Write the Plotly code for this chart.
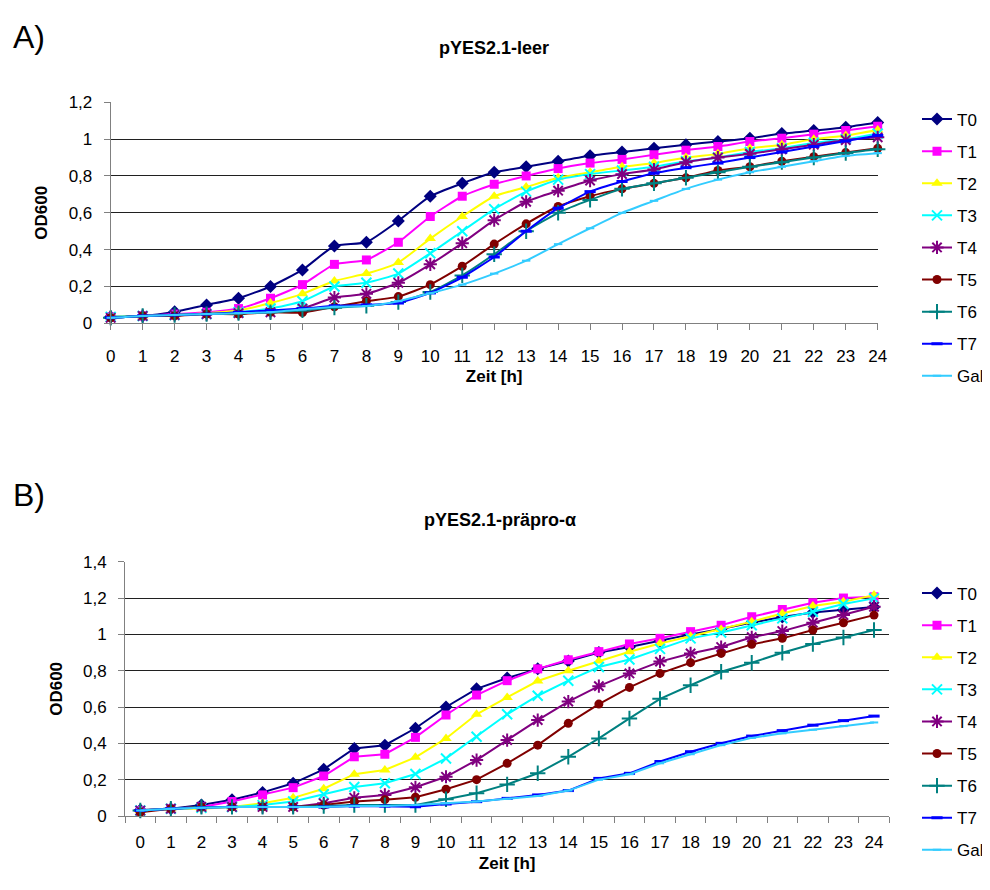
import plotly.graph_objects as go

hours = list(range(25))
hour_labels = [str(h) for h in hours]
series_names = ["T0", "T1", "T2", "T3", "T4", "T5", "T6", "T7", "Gal"]

# ---- Panel A: pYES2.1-leer ----
a_T0 = [0.036, 0.04, 0.063, 0.10, 0.136, 0.20, 0.29, 0.42, 0.44, 0.556, 0.69, 0.76, 0.82, 0.85, 0.88, 0.91, 0.93, 0.95, 0.97, 0.987, 1.005, 1.03, 1.047, 1.065, 1.09]
a_T1 = [0.035, 0.04, 0.05, 0.06, 0.08, 0.136, 0.21, 0.32, 0.344, 0.44, 0.58, 0.69, 0.755, 0.80, 0.84, 0.87, 0.89, 0.915, 0.94, 0.96, 0.987, 1.005, 1.027, 1.047, 1.07]
a_T2 = [0.035, 0.04, 0.045, 0.055, 0.07, 0.11, 0.16, 0.23, 0.27, 0.33, 0.46, 0.58, 0.69, 0.74, 0.79, 0.82, 0.85, 0.87, 0.90, 0.92, 0.95, 0.97, 1.0, 1.02, 1.05]
a_T3 = [0.035, 0.04, 0.045, 0.05, 0.06, 0.08, 0.12, 0.20, 0.22, 0.27, 0.38, 0.50, 0.62, 0.715, 0.78, 0.81, 0.83, 0.85, 0.88, 0.90, 0.93, 0.95, 0.98, 1.0, 1.03]
a_T4 = [0.03, 0.04, 0.045, 0.05, 0.055, 0.06, 0.08, 0.14, 0.16, 0.22, 0.32, 0.435, 0.56, 0.66, 0.72, 0.775, 0.81, 0.835, 0.875, 0.9, 0.92, 0.945, 0.97, 0.995, 1.01]
a_T5 = [0.03, 0.04, 0.04, 0.05, 0.05, 0.06, 0.058, 0.09, 0.12, 0.145, 0.21, 0.31, 0.43, 0.54, 0.634, 0.69, 0.73, 0.76, 0.79, 0.83, 0.85, 0.88, 0.905, 0.927, 0.95]
a_T6 = [0.03, 0.04, 0.045, 0.05, 0.055, 0.06, 0.07, 0.085, 0.095, 0.115, 0.17, 0.26, 0.375, 0.50, 0.60, 0.67, 0.73, 0.76, 0.79, 0.82, 0.85, 0.875, 0.90, 0.925, 0.945]
a_T7 = [0.03, 0.04, 0.045, 0.05, 0.06, 0.07, 0.08, 0.095, 0.10, 0.11, 0.165, 0.25, 0.36, 0.50, 0.625, 0.715, 0.77, 0.815, 0.845, 0.87, 0.90, 0.93, 0.96, 0.99, 1.02]
a_Gal = [0.03, 0.04, 0.045, 0.05, 0.055, 0.06, 0.075, 0.09, 0.094, 0.12, 0.163, 0.21, 0.27, 0.34, 0.43, 0.516, 0.60, 0.665, 0.73, 0.78, 0.82, 0.85, 0.88, 0.91, 0.924]

# ---- Panel B: pYES2.1-präpro-α ----
b_T0 = [0.033, 0.04, 0.06, 0.09, 0.13, 0.18, 0.257, 0.372, 0.39, 0.483, 0.60, 0.70, 0.76, 0.81, 0.853, 0.90, 0.93, 0.965, 1.0, 1.03, 1.065, 1.095, 1.12, 1.135, 1.15]
b_T1 = [0.03, 0.04, 0.05, 0.08, 0.116, 0.156, 0.22, 0.326, 0.34, 0.433, 0.556, 0.666, 0.745, 0.81, 0.86, 0.905, 0.947, 0.978, 1.015, 1.05, 1.097, 1.137, 1.174, 1.20, 1.207]
b_T2 = [0.03, 0.04, 0.04, 0.05, 0.07, 0.10, 0.15, 0.23, 0.253, 0.323, 0.427, 0.56, 0.653, 0.743, 0.80, 0.853, 0.904, 0.95, 0.99, 1.027, 1.07, 1.115, 1.156, 1.18, 1.216]
b_T3 = [0.03, 0.04, 0.045, 0.05, 0.06, 0.08, 0.12, 0.16, 0.18, 0.231, 0.317, 0.436, 0.56, 0.662, 0.745, 0.82, 0.862, 0.92, 0.978, 1.01, 1.05, 1.088, 1.124, 1.167, 1.198]
b_T4 = [0.03, 0.04, 0.05, 0.05, 0.05, 0.05, 0.07, 0.10, 0.116, 0.158, 0.216, 0.308, 0.418, 0.528, 0.63, 0.715, 0.785, 0.85, 0.895, 0.93, 0.984, 1.018, 1.064, 1.106, 1.152]
b_T5 = [0.02, 0.04, 0.05, 0.05, 0.05, 0.05, 0.06, 0.08, 0.09, 0.103, 0.147, 0.20, 0.29, 0.39, 0.51, 0.616, 0.708, 0.785, 0.844, 0.895, 0.945, 0.978, 1.024, 1.064, 1.106]
b_T6 = [0.03, 0.04, 0.05, 0.05, 0.05, 0.05, 0.055, 0.06, 0.06, 0.06, 0.092, 0.125, 0.174, 0.235, 0.326, 0.427, 0.537, 0.645, 0.72, 0.794, 0.844, 0.899, 0.947, 0.983, 1.024]
b_T7 = [0.03, 0.04, 0.045, 0.05, 0.05, 0.05, 0.05, 0.055, 0.055, 0.051, 0.066, 0.079, 0.097, 0.116, 0.14, 0.207, 0.235, 0.30, 0.354, 0.40, 0.44, 0.47, 0.50, 0.525, 0.55]
b_Gal = [0.03, 0.04, 0.045, 0.05, 0.05, 0.05, 0.05, 0.055, 0.055, 0.06, 0.07, 0.08, 0.095, 0.11, 0.14, 0.20, 0.23, 0.29, 0.34, 0.39, 0.43, 0.455, 0.475, 0.495, 0.515]

a_values = [a_T0, a_T1, a_T2, a_T3, a_T4, a_T5, a_T6, a_T7, a_Gal]
b_values = [b_T0, b_T1, b_T2, b_T3, b_T4, b_T5, b_T6, b_T7, b_Gal]

colors = ["#000080", "#FF00FF", "#FFFF00", "#00FFFF", "#800080", "#800000", "#008080", "#0000FF", "#33CCFF"]
symbols = ["diamond", "square", "triangle-up", "x-thin-open", "asterisk-open", "circle", "cross-thin-open", "line-ew-open", "line-ew-open"]
sizes = [10, 9, 10, 10, 11, 9, 11, 8, 6]
mline = [0, 0, 0, 2, 2, 0, 2, 3, 2]

FONT = "Liberation Sans, Arial, sans-serif"
OFF = 8  # page body margin around the plot div
W, H = 990 - 2 * OFF, 890 - 2 * OFF  # fit the viewport, no scrollbars


def fx(p):
    return (p - OFF) / W


def fy(p):
    return 1 - (p - OFF) / H


fig = go.Figure()

for i, name in enumerate(series_names):
    marker = dict(symbol=symbols[i], size=sizes[i], color=colors[i],
                  line=dict(color=colors[i], width=mline[i]))
    fig.add_trace(go.Scatter(
        x=hours, y=a_values[i], name=name, mode="lines+markers",
        line=dict(color=colors[i], width=2, shape="spline", smoothing=0.5),
        marker=marker, xaxis="x", yaxis="y", legend="legend",
        legendgroup="a" + name, cliponaxis=False))

for i, name in enumerate(series_names):
    marker = dict(symbol=symbols[i], size=sizes[i], color=colors[i],
                  line=dict(color=colors[i], width=mline[i]))
    fig.add_trace(go.Scatter(
        x=hour_labels, y=b_values[i], name=name, mode="lines+markers",
        line=dict(color=colors[i], width=2),
        marker=marker, xaxis="x2", yaxis="y2", legend="legend2",
        legendgroup="b" + name, cliponaxis=False))

TICKF = dict(family=FONT, size=17, color="black")
TITLEF = dict(family=FONT, size=17, color="black")

axis_common = dict(showline=True, linecolor="#808080", linewidth=1,
                   ticks="outside", ticklen=6, tickcolor="#808080",
                   tickfont=TICKF, zeroline=False, automargin=False)

ann = []
for text, xp, yp, size, anchor in [
    ("A)", 11, 37, 32, "left"),
    ("B)", 11, 495, 32, "left"),
    ("<b>pYES2.1-leer</b>", 494, 48, 18, "center"),
    ("<b>pYES2.1-präpro-α</b>", 500, 520, 18, "center"),
]:
    ann.append(dict(text=text, x=fx(xp), y=fy(yp), xref="paper", yref="paper",
                    xanchor=anchor, yanchor="middle", showarrow=False,
                    font=dict(family=FONT, size=size, color="black")))

fig.update_layout(
    width=W, height=H,
    margin=dict(l=0, r=0, t=0, b=0, autoexpand=False),
    paper_bgcolor="white", plot_bgcolor="white",
    separators=",.",
    font=dict(family=FONT, size=17, color="black"),
    xaxis=dict(domain=[fx(110.7), fx(877.7)], range=[0, 24], dtick=1, tick0=0,
               showgrid=False, anchor="y", ticklabelstandoff=11,
               title=dict(text="<b>Zeit [h]</b>", font=TITLEF, standoff=5),
               **axis_common),
    yaxis=dict(domain=[fy(323.3), fy(102.3)], range=[0, 1.2], dtick=0.2, anchor="x",
               showgrid=True, gridcolor="#202020", gridwidth=1, ticklabelstandoff=8,
               title=dict(text="<b>OD600</b>", font=TITLEF, standoff=16),
               **axis_common),
    xaxis2=dict(domain=[fx(125), fx(889.3)], type="category", range=[-0.5, 24.5],
                tickson="boundaries", showgrid=False, anchor="y2", ticklabelstandoff=11,
                title=dict(text="<b>Zeit [h]</b>", font=TITLEF, standoff=5),
                **axis_common),
    yaxis2=dict(domain=[fy(816), fy(561.7)], range=[0, 1.4], dtick=0.2, anchor="x2",
                showgrid=True, gridcolor="#202020", gridwidth=1, ticklabelstandoff=8,
                title=dict(text="<b>OD600</b>", font=TITLEF, standoff=16),
                **axis_common),
    legend=dict(x=fx(917), y=fy(101.5), xanchor="left", yanchor="top",
                font=dict(family=FONT, size=17), tracegroupgap=7,
                itemwidth=30, bgcolor="rgba(0,0,0,0)"),
    legend2=dict(x=fx(917), y=fy(575.5), xanchor="left", yanchor="top",
                 font=dict(family=FONT, size=17), tracegroupgap=7,
                 itemwidth=30, bgcolor="rgba(0,0,0,0)"),
    annotations=ann,
)

fig.write_html("out.html")
